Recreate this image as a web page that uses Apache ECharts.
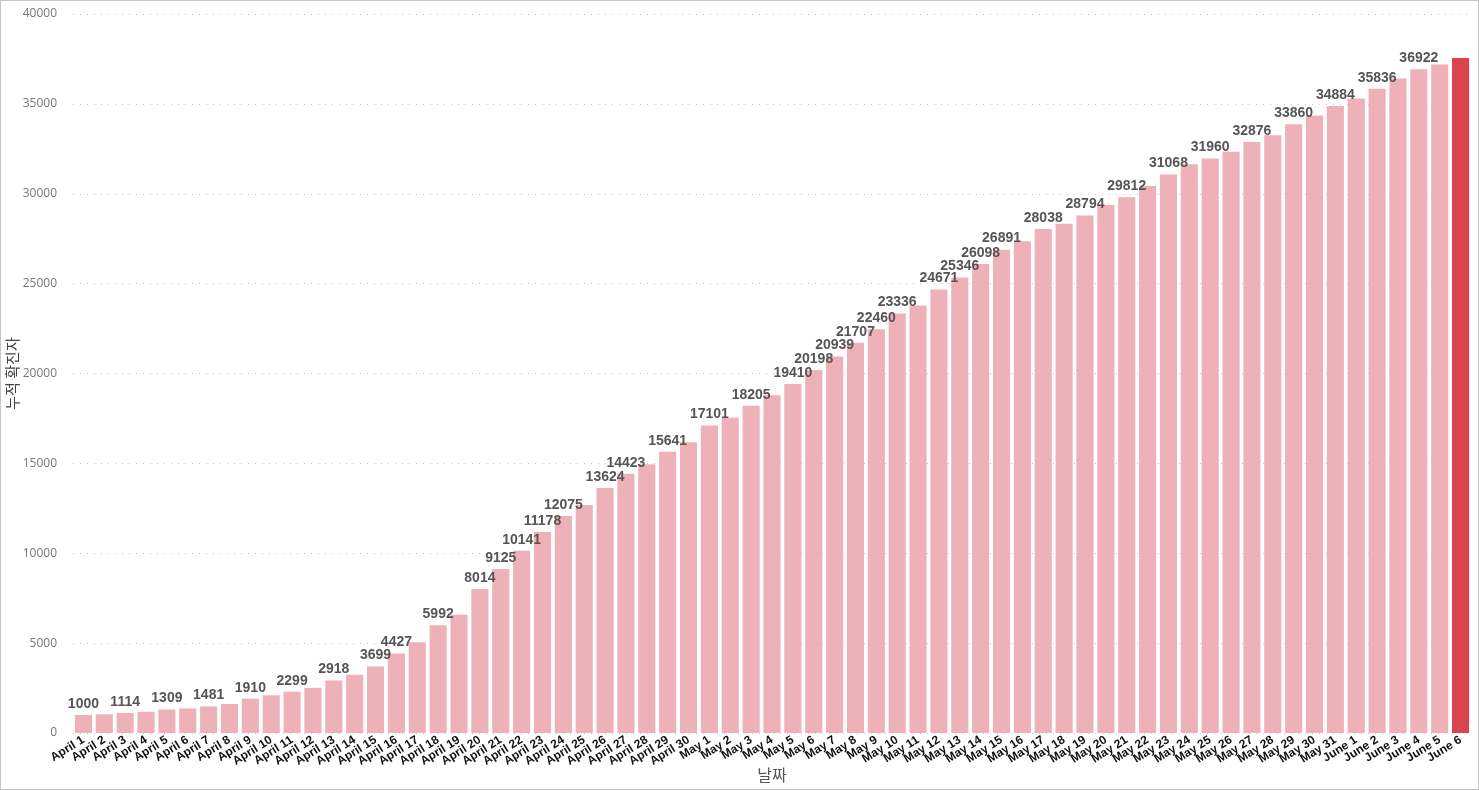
<!DOCTYPE html>
<html>
<head>
<meta charset="utf-8">
<script src="https://cdn.jsdelivr.net/npm/echarts@6/dist/echarts.min.js"></script>
<style>
  html, body { margin: 0; padding: 0; background: #fff; }
  #frame { position: absolute; left: 0; top: 0; width: 1479px; height: 790px; box-sizing: border-box; border: 1px solid #c6c6c6; }
  #chart { position: absolute; left: 0; top: 0; width: 1479px; height: 790px; }
</style>
</head>
<body>
<div id="chart"></div>
<div id="frame"></div>
<script>
const categories = [
  "April 1","April 2","April 3","April 4","April 5","April 6","April 7","April 8","April 9","April 10",
  "April 11","April 12","April 13","April 14","April 15","April 16","April 17","April 18","April 19","April 20",
  "April 21","April 22","April 23","April 24","April 25","April 26","April 27","April 28","April 29","April 30",
  "May 1","May 2","May 3","May 4","May 5","May 6","May 7","May 8","May 9","May 10",
  "May 11","May 12","May 13","May 14","May 15","May 16","May 17","May 18","May 19","May 20",
  "May 21","May 22","May 23","May 24","May 25","May 26","May 27","May 28","May 29","May 30","May 31",
  "June 1","June 2","June 3","June 4","June 5","June 6"
];
const cumulativeCases = [
  1000, 1040, 1114, 1180, 1309, 1370, 1481, 1613, 1910, 2097,
  2299, 2515, 2918, 3245, 3699, 4427, 5050, 5992, 6580, 8014,
  9125, 10141, 11178, 12075, 12685, 13624, 14423, 14955, 15641, 16180,
  17101, 17545, 18205, 18795, 19410, 20198, 20939, 21707, 22460, 23336,
  23785, 24671, 25346, 26098, 26891, 27355, 28038, 28335, 28794, 29371,
  29812, 30430, 31068, 31635, 31960, 32335, 32876, 33260, 33860, 34360, 34884,
  35300, 35836, 36410, 36922, 37190, 37550
];
const labeledDates = [
  "April 1","April 3","April 5","April 7","April 9","April 11","April 13","April 15","April 16","April 18",
  "April 20","April 21","April 22","April 23","April 24","April 26","April 27","April 29",
  "May 1","May 3","May 5","May 6","May 7","May 8","May 9","May 10","May 12","May 13","May 14","May 15",
  "May 17","May 19","May 21","May 23","May 25","May 27","May 29","May 31","June 2","June 4"
];
const highlightDate = "June 6";
const yTicks = [0, 5000, 10000, 15000, 20000, 25000, 30000, 35000, 40000];
const xTitle = "날짜";
const yTitle = "누적 확진자";

const barColor = "#EEB1B7";
const highlightColor = "#D9444F";

const seriesData = cumulativeCases.map((v, i) => ({
  value: v,
  itemStyle: { color: categories[i] === highlightDate ? highlightColor : barColor },
  label: { show: labeledDates.includes(categories[i]) }
}));

const chart = echarts.init(document.getElementById('chart'), null, { renderer: 'canvas' });
chart.setOption({
  animation: false,
  backgroundColor: '#ffffff',
  grid: { left: 73, right: 8, top: 14, bottom: 57, containLabel: false, outerBoundsMode: 'none' },
  xAxis: {
    type: 'category',
    data: categories,
    name: xTitle,
    nameLocation: 'middle',
    nameGap: 34,
    nameMoveOverlap: false,
    nameTextStyle: { fontFamily: 'Noto Sans CJK KR', fontSize: 16, color: '#555' },
    axisLine: { show: false },
    axisTick: { show: false },
    axisLabel: {
      interval: 0,
      rotate: 32,
      margin: 6,
      fontFamily: 'Liberation Sans',
      fontWeight: 'bold',
      fontSize: 12,
      color: '#111'
    }
  },
  yAxis: {
    type: 'value',
    min: yTicks[0],
    max: yTicks[yTicks.length - 1],
    interval: 5000,
    name: yTitle,
    nameLocation: 'middle',
    nameGap: 53,
    nameMoveOverlap: false,
    nameRotate: 90,
    nameTextStyle: { fontFamily: 'Noto Sans CJK KR', fontSize: 15, color: '#444' },
    axisLine: { show: false },
    axisTick: { show: false },
    axisLabel: {
      margin: 16,
      fontFamily: 'Open Sans',
      fontSize: 12,
      color: '#777',
      formatter: v => String(v)
    },
    splitLine: { lineStyle: { color: '#c8c8c8', type: [1, 6], width: 1 } }
  },
  series: [{
    type: 'bar',
    data: seriesData,
    barCategoryGap: '18%',
    label: {
      position: 'top',
      distance: 4,
      fontFamily: 'Liberation Sans',
      fontWeight: 'bold',
      fontSize: 14,
      color: '#555'
    }
  }]
});
</script>
</body>
</html>
